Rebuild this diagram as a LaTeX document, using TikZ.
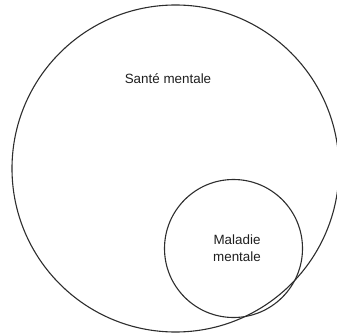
\documentclass[tikz,border=0pt]{standalone}
\usepackage{fontspec}
\setmainfont{Liberation Sans}
\usepackage{xcolor}
\usepackage{tikz}
\definecolor{clrLine}{RGB}{45,45,45}
\definecolor{clrTxt}{RGB}{30,30,30}
\tikzset{
  ring/.style={circle,draw=clrLine,line width=1.1pt,inner sep=0pt},
  lbl/.style={font=\fontsize{13.4}{17}\selectfont,text=clrTxt,align=center,inner sep=0pt}
}

\begin{document}
\begin{tikzpicture}[x=1pt,y=-1pt]
  \useasboundingbox (0,0) rectangle (337,334);
  \node[ring,minimum size=327pt] (sante) at (175.5,168.5) {};
  \node[ring,minimum size=138pt] (maladie) at (233.5,248.5) {};
  \node[lbl] (santeLbl) at (168,79) {Santé mentale};
  \node[lbl] (maladieLbl) at (237,248) {Maladie\\mentale};
\end{tikzpicture}
\end{document}
